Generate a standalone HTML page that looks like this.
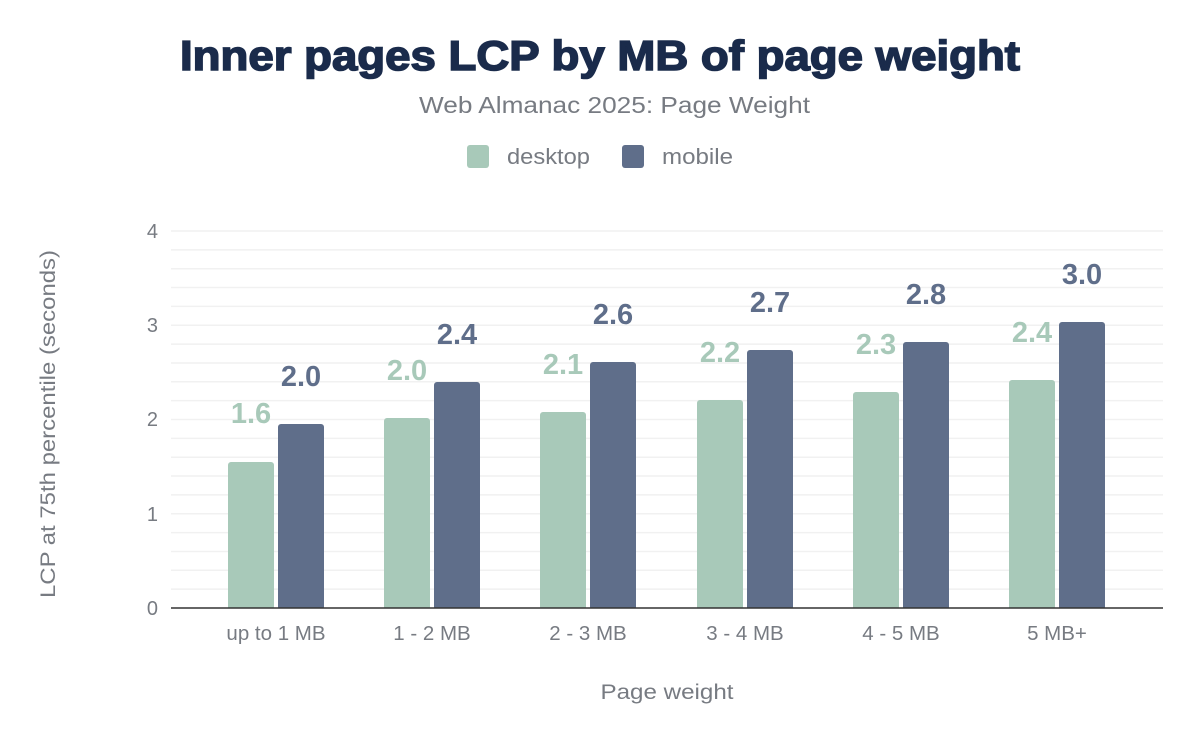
<!DOCTYPE html>
<html><head><meta charset="utf-8"><style>
body{margin:0;background:#fff;}
svg{display:block;font-family:"Liberation Sans",sans-serif;}
</style></head><body>
<svg width="1200" height="742" viewBox="0 0 1200 742" xmlns="http://www.w3.org/2000/svg">
<rect width="1200" height="742" fill="#fff"/>
<text x="180" y="70" textLength="840" lengthAdjust="spacingAndGlyphs" font-size="42" font-weight="bold" fill="#1a2b4b" stroke="#1a2b4b" stroke-width="1.6">Inner pages LCP by MB of page weight</text>
<text x="419" y="113" textLength="391" lengthAdjust="spacingAndGlyphs" font-size="23" fill="#777b82">Web Almanac 2025: Page Weight</text>
<rect x="467" y="145" width="22" height="23" rx="3" fill="#a8c9b9"/>
<text x="507" y="164" textLength="83" lengthAdjust="spacingAndGlyphs" font-size="22" fill="#777b82">desktop</text>
<rect x="622" y="145" width="22" height="23" rx="3" fill="#5f6e8a"/>
<text x="662" y="164" textLength="71" lengthAdjust="spacingAndGlyphs" font-size="22" fill="#777b82">mobile</text>
<g stroke="#f1f1f1" stroke-width="1.5">
<line x1="171" x2="1163" y1="231" y2="231"/><line x1="171" x2="1163" y1="249.85" y2="249.85"/><line x1="171" x2="1163" y1="268.7" y2="268.7"/><line x1="171" x2="1163" y1="287.55" y2="287.55"/><line x1="171" x2="1163" y1="306.4" y2="306.4"/>
<line x1="171" x2="1163" y1="325.25" y2="325.25"/><line x1="171" x2="1163" y1="344.1" y2="344.1"/><line x1="171" x2="1163" y1="362.95" y2="362.95"/><line x1="171" x2="1163" y1="381.8" y2="381.8"/><line x1="171" x2="1163" y1="400.65" y2="400.65"/>
<line x1="171" x2="1163" y1="419.5" y2="419.5"/><line x1="171" x2="1163" y1="438.35" y2="438.35"/><line x1="171" x2="1163" y1="457.2" y2="457.2"/><line x1="171" x2="1163" y1="476.05" y2="476.05"/><line x1="171" x2="1163" y1="494.9" y2="494.9"/>
<line x1="171" x2="1163" y1="513.75" y2="513.75"/><line x1="171" x2="1163" y1="532.6" y2="532.6"/><line x1="171" x2="1163" y1="551.45" y2="551.45"/><line x1="171" x2="1163" y1="570.3" y2="570.3"/><line x1="171" x2="1163" y1="589.15" y2="589.15"/>
</g>
<g font-size="20" fill="#777b82" text-anchor="end">
<text x="158" y="238">4</text><text x="158" y="332">3</text><text x="158" y="426">2</text><text x="158" y="521">1</text><text x="158" y="615">0</text>
</g>
<text transform="translate(55,424) rotate(-90)" text-anchor="middle" font-size="21" textLength="348" lengthAdjust="spacingAndGlyphs" fill="#777b82">LCP at 75th percentile (seconds)</text>
<text x="667" y="699" text-anchor="middle" font-size="21" textLength="133" lengthAdjust="spacingAndGlyphs" fill="#777b82">Page weight</text>
<g font-size="20.5" fill="#777b82" text-anchor="middle">
<text x="276" y="640">up to 1 MB</text><text x="432" y="640">1 - 2 MB</text><text x="588" y="640">2 - 3 MB</text><text x="745" y="640">3 - 4 MB</text><text x="901" y="640">4 - 5 MB</text><text x="1057" y="640">5 MB+</text>
</g>
<g fill="#a8c9b9">
<rect x="228" y="462" width="46" height="148" rx="3"/>
<rect x="384" y="418" width="46" height="192" rx="3"/>
<rect x="540" y="412" width="46" height="198" rx="3"/>
<rect x="697" y="400" width="46" height="210" rx="3"/>
<rect x="853" y="392" width="46" height="218" rx="3"/>
<rect x="1009" y="380" width="46" height="230" rx="3"/>
</g>
<g fill="#5f6e8a">
<rect x="278" y="424" width="46" height="186" rx="3"/>
<rect x="434" y="382" width="46" height="228" rx="3"/>
<rect x="590" y="362" width="46" height="248" rx="3"/>
<rect x="747" y="350" width="46" height="260" rx="3"/>
<rect x="903" y="342" width="46" height="268" rx="3"/>
<rect x="1059" y="322" width="46" height="288" rx="3"/>
</g>
<rect x="171" y="608" width="992" height="2" fill="#fff"/>
<line x1="171" x2="1163" y1="608" y2="608" stroke="#333" stroke-width="1.5"/>
<g font-size="29" font-weight="bold" fill="#a8c9b9" text-anchor="middle">
<text x="251" y="423">1.6</text><text x="407" y="380">2.0</text><text x="563" y="374">2.1</text><text x="720" y="362">2.2</text><text x="876" y="354">2.3</text><text x="1032" y="342">2.4</text>
</g>
<g font-size="29" font-weight="bold" fill="#5f6e8a" text-anchor="middle">
<text x="301" y="386">2.0</text><text x="457" y="344">2.4</text><text x="613" y="324">2.6</text><text x="770" y="312">2.7</text><text x="926" y="304">2.8</text><text x="1082" y="284">3.0</text>
</g>
</svg>
</body></html>
